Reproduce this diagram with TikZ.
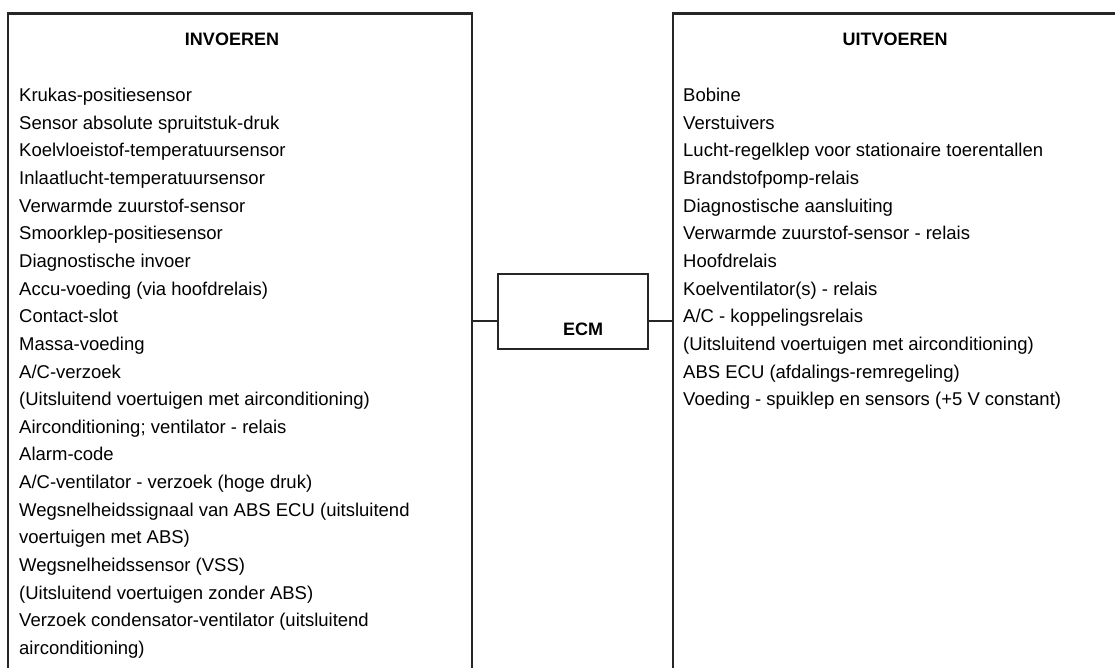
\documentclass[tikz,border=0pt]{standalone}
\usepackage{fontspec}
\setmainfont{Liberation Sans}
\begin{document}
\begin{tikzpicture}[x=1pt,y=-1pt,
  frame/.style={line width=2.2pt, draw=black!85},
  item/.style={anchor=base west, inner sep=0pt, font=\fontsize{18.5}{22}\selectfont},
  head/.style={anchor=base, inner sep=0pt, font=\fontsize{18}{22}\selectfont\bfseries},
  conn/.style={line width=2.2pt, draw=black!85}]
\useasboundingbox (0,0) rectangle (1115,668);
% open input and output frames
\draw[frame] (8,668) -- (8,13.5) -- (472,13.5) -- (472,668);
\draw[frame] (673,668) -- (673,13.5) -- (1115,13.5);
\coordinate (lin) at (472,321);
\coordinate (rin) at (673,321);
% ECM box
\node[frame, minimum width=150pt, minimum height=75pt, inner sep=0pt] (ecm) at (573,311.5) {};
\node[head] (ecmlabel) at (583,335.5) {ECM};
\draw[conn] (lin) -- (ecm.west |- lin);
\draw[conn] (ecm.east |- rin) -- (rin);
% headings
\node[head] (hin) at (232,46) {INVOEREN};
\node[head] (hout) at (895,46) {UITVOEREN};
% inputs
\foreach [count=\i from 0] \t in {
  {Krukas-positiesensor},
  {Sensor absolute spruitstuk-druk},
  {Koelvloeistof-temperatuursensor},
  {Inlaatlucht-temperatuursensor},
  {Verwarmde zuurstof-sensor},
  {Smoorklep-positiesensor},
  {Diagnostische invoer},
  {Accu-voeding (via hoofdrelais)},
  {Contact-slot},
  {Massa-voeding},
  {A/C-verzoek},
  {(Uitsluitend voertuigen met airconditioning)},
  {Airconditioning; ventilator - relais},
  {Alarm-code},
  {A/C-ventilator - verzoek (hoge druk)},
  {Wegsnelheidssignaal van ABS ECU (uitsluitend},
  {voertuigen met ABS)},
  {Wegsnelheidssensor (VSS)},
  {(Uitsluitend voertuigen zonder ABS)},
  {Verzoek condensator-ventilator (uitsluitend},
  {airconditioning)}}
  \node[item] (in\i) at (19,{101.5+27.65*\i}) {\t};
% outputs
\foreach [count=\i from 0] \t in {
  {Bobine},
  {Verstuivers},
  {Lucht-regelklep voor stationaire toerentallen},
  {Brandstofpomp-relais},
  {Diagnostische aansluiting},
  {Verwarmde zuurstof-sensor - relais},
  {Hoofdrelais},
  {Koelventilator(s) - relais},
  {A/C - koppelingsrelais},
  {(Uitsluitend voertuigen met airconditioning)},
  {ABS ECU (afdalings-remregeling)},
  {Voeding - spuiklep en sensors (+5 V constant)}}
  \node[item] (out\i) at (683,{101.5+27.65*\i}) {\t};
\end{tikzpicture}
\end{document}
